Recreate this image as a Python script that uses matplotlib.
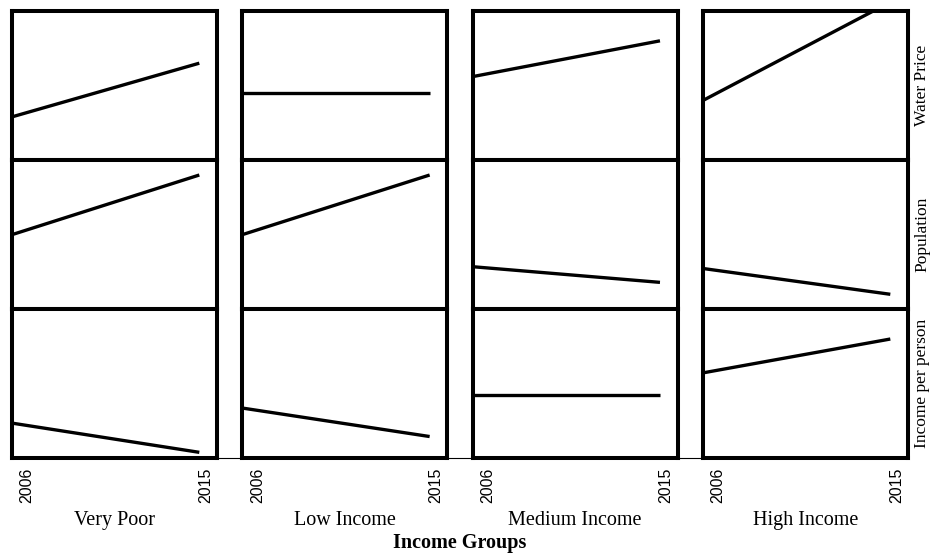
import matplotlib
matplotlib.use("Agg")
import matplotlib.pyplot as plt
from matplotlib.transforms import ScaledTranslation

# -----------------------------
# Data (values as share of each panel's height)
# -----------------------------
years = [2006, 2015]
groups = ["Very Poor", "Low Income", "Medium Income", "High Income"]
measures = ["Water Price", "Population", "Income per person"]

water_price = [[0.29, 0.65], [0.45, 0.45], [0.56, 0.80], [0.40, 1.06]]
population = [[0.50, 0.90], [0.50, 0.90], [0.285, 0.18], [0.273, 0.10]]
income_pp = [[0.236, 0.04], [0.337, 0.146], [0.427, 0.427], [0.573, 0.80]]
rows = [water_price, population, income_pp]

serif = "Liberation Serif"
sans = "Liberation Sans"

fig = plt.figure(figsize=(9.31, 5.53), dpi=100)
gs = fig.add_gridspec(3, 4, left=12/931, right=908/931, top=1-11/553,
                      bottom=1-458.3/553, wspace=0.1236, hspace=0)

# background axis: thin baseline joining the columns
bg = fig.add_axes([12/931, 1-458.3/553, 896/931, (458.3-11)/553], zorder=-1)
bg.set_xticks([])
bg.set_yticks([])
for side in ["top", "left", "right"]:
    bg.spines[side].set_visible(False)
bg.spines["bottom"].set_linewidth(0.8)

for r, data in enumerate(rows):
    for c, vals in enumerate(data):
        ax = fig.add_subplot(gs[r, c])
        ax.plot(years, vals, color="black", lw=2.4, solid_capstyle="butt")
        ax.set_xlim(2006, 2015.85)
        ax.set_ylim(0, 1)
        ax.set_yticks([])
        for s in ax.spines.values():
            s.set_linewidth(2.9)
        if r == 2:
            ax.set_xticks(years)
            ax.set_xticklabels([str(y) for y in years], rotation=90,
                               family=sans, fontsize=11.5, va="top")
            ax.tick_params(axis="x", length=0, pad=6.5)
            for lbl, dx in zip(ax.get_xticklabels(), [15, 6]):
                lbl.set_transform(lbl.get_transform() +
                                  ScaledTranslation(dx/100, 0, fig.dpi_scale_trans))
            ax.set_xlabel(groups[c], family=serif, fontsize=14.5, labelpad=6)
        else:
            ax.set_xticks([])
        if c == 3:
            pos = ax.get_position()
            fig.text(0.999, (pos.y0 + pos.y1) / 2, measures[r], family=serif,
                     fontsize=12.5, rotation=90, ha="right", va="center")

fig.text(460/931, 1-543/553, "Income Groups", family=serif, fontsize=14.5,
         fontweight="bold", ha="center", va="center")

fig.savefig("out.png", dpi=100)
